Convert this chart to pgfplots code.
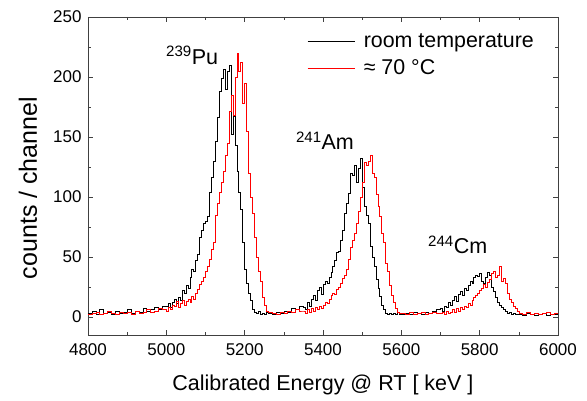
\documentclass[border=0pt]{standalone}
\usepackage{fontspec}
\setmainfont{Liberation Sans}
\usepackage{pgfplots}
\usepackage{pgfplotstable}
\pgfplotsset{compat=1.18}

% spectra: channel start energy, room temperature counts, ~70 C counts
\pgfplotstableread{
x rt hot
4800 3 2
4810 5 3
4820 2 4
4830 6 2
4840 3 3
4850 4 5
4860 2 3
4870 5 2
4880 3 4
4890 4 3
4900 6 4
4910 3 2
4920 5 5
4930 4 3
4940 7 4
4950 5 6
4960 6 4
4970 8 5
4980 6 7
4990 9 6
5000 9 5
5005 11 8
5010 8 6
5015 12 10
5020 15 9
5025 11 13
5030 16 8
5035 14 11
5040 22 14
5045 20 10
5050 26 13
5055 24 15
5060 33 12
5065 40 17
5070 38 15
5075 47 20
5080 52 23
5085 66 27
5090 72 30
5095 78 33
5100 80 38
5105 84 42
5110 104 48
5115 116 56
5120 130 62
5125 146 85
5130 166 95
5135 188 104
5140 199 112
5145 206 121
5150 190 135
5155 205 145
5160 210 171
5165 152 185
5170 167 168
5175 143 200
5180 121 220
5185 104 205
5190 90 212
5195 62 178
5200 40 195
5205 28 155
5210 20 120
5215 14 100
5220 6 86
5225 4 66
5230 3 50
5235 5 38
5240 2 30
5245 3 16
5250 2 10
5255 4 5
5260 3 4
5270 2 3
5280 4 2
5290 3 4
5300 5 3
5310 4 5
5320 7 4
5330 6 6
5340 9 5
5350 8 5
5355 6 3
5360 12 6
5365 9 4
5370 15 7
5375 18 5
5380 14 8
5385 22 6
5390 25 9
5395 19 7
5400 27 10
5405 30 12
5410 28 11
5415 33 15
5420 37 18
5425 42 20
5430 47 19
5435 54 23
5440 55 25
5445 64 28
5450 72 32
5455 86 35
5460 95 40
5465 103 48
5470 120 58
5475 118 64
5480 126 70
5485 112 78
5490 124 88
5495 132 100
5500 108 112
5505 92 129
5510 85 126
5515 78 130
5520 59 135
5525 50 120
5530 42 116
5535 31 102
5540 24 92
5545 17 84
5550 10 70
5555 6 62
5560 3 45
5565 2 38
5570 3 26
5575 2 18
5580 3 12
5585 2 7
5590 4 4
5595 2 3
5600 2 3
5610 3 2
5620 2 4
5630 4 2
5640 3 3
5650 2 4
5660 4 2
5670 3 3
5680 5 4
5690 6 3
5700 7 3
5705 5 4
5710 9 2
5715 8 5
5720 12 3
5725 10 4
5730 14 6
5735 17 4
5740 13 7
5745 19 5
5750 21 8
5755 18 6
5760 24 9
5765 22 8
5770 26 11
5775 30 10
5780 28 14
5785 33 16
5790 35 18
5795 34 20
5800 36 22
5805 30 24
5810 28 27
5815 33 25
5820 37 29
5825 35 31
5830 25 36
5835 21 38
5840 16 33
5845 12 35
5850 10 42
5855 8 30
5860 6 32
5865 5 28
5870 3 20
5875 4 15
5880 2 12
5885 3 9
5890 2 7
5895 2 5
5900 2 3
5910 1 2
5920 3 4
5930 2 2
5940 1 3
5950 2 2
5960 3 3
5970 1 4
5980 2 2
5990 2 3
6000 2 3
}\spectra

\begin{document}
\begin{tikzpicture}
\begin{axis}[
    scale only axis,
    width=470pt, height=318pt,
    xmin=4800, xmax=6000,
    ymin=-15, ymax=250,
    xtick distance=200,
    ytick={0,50,...,250},
    minor x tick num=1,
    minor y tick num=1,
    tick align=inside,
    major tick length=5pt,
    minor tick length=3pt,
    axis line style={black!75},
    every tick/.style={black!75},
    /pgf/number format/assume math mode=true,
    /pgf/number format/1000 sep={},
    tick label style={font=\fontsize{17}{20}\selectfont},
    yticklabel style={xshift=-3pt},
    xticklabel style={yshift=-5pt},
    xlabel={Calibrated Energy @ RT [ keV ]},
    xlabel style={font=\fontsize{21.5}{25}\selectfont,
        at={(axis description cs:0.5,-0.158)}, anchor=center},
    ylabel={counts / channel},
    ylabel style={font=\fontsize{25}{29}\selectfont,
        at={(axis description cs:-0.1277,0.462)}, anchor=center},
    legend style={draw=none, fill=none, at={(0.466,0.955)}, anchor=north west,
        font=\fontsize{21.4}{24}\selectfont, inner sep=0pt, row sep=7pt,
        /tikz/every odd column/.append style={column sep=7pt}},
    legend cell align=left,
    legend image code/.code={\draw (0pt,0pt) -- (47pt,0pt);},
]
\addplot[const plot, black, line width=0.6pt, forget plot] table[x=x, y=rt] {\spectra};
\addplot[const plot, red, line width=0.6pt, forget plot] table[x=x, y=hot] {\spectra};
\addlegendimage{black, line width=0.6pt}
\addlegendentry{room temperature}
\addlegendimage{red, line width=0.6pt}
\addlegendentry{≈ 70 °C}

\node[font=\fontsize{21.5}{25}\selectfont] at (axis cs:5066,218) {\textsuperscript{239}Pu};
\node[font=\fontsize{21.5}{25}\selectfont] at (axis cs:5405,147) {\textsuperscript{241}Am};
\node[font=\fontsize{21.5}{25}\selectfont] at (axis cs:5744,60) {\textsuperscript{244}Cm};
\end{axis}
\pgfresetboundingbox
\path (current axis.south west) ++(-88pt,-66pt) rectangle ++(587pt,401pt);
\end{tikzpicture}
\end{document}
